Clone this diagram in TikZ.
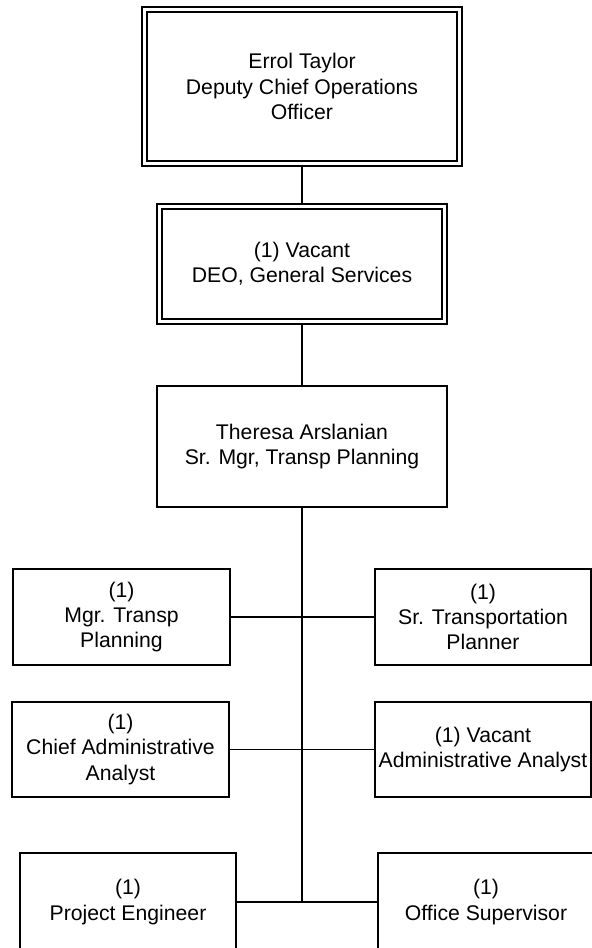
\documentclass[tikz,border=0pt]{standalone}
\usepackage{fontspec}
\setmainfont{Liberation Sans}
\usepackage{tikz}
\usetikzlibrary{positioning}

\begin{document}
\begin{tikzpicture}[x=0.5pt, y=-0.5pt,
  every node/.style={font=\fontsize{10.6}{12.6}\selectfont, align=center, inner sep=0pt},
  box/.style={draw, line width=0.75pt, rectangle},
  dblbox/.style={draw, double, line width=1pt, double distance=1.5pt, rectangle},
  link/.style={line width=0.75pt},
  spine/.style={line width=1.3pt}]
\useasboundingbox (0,0) rectangle (592,948);
% upper chain
\node[dblbox, minimum width=157.5pt, minimum height=77pt] (cdo) at (302,86.5)
  {Errol Taylor\\Deputy Chief Operations\\Officer};
\node[dblbox, minimum width=142.5pt, minimum height=57.75pt] (deo) at (302,264)
  {(1) Vacant\\DEO, General Services};
\node[box, minimum width=145pt, minimum height=60.5pt] (sm) at (302,446.5)
  {Theresa Arslanian\\Sr. Mgr, Transp Planning};
% reports
\node[box, minimum width=108.5pt, minimum height=48pt] (mgr) at (121.5,617)
  {(1)\\Mgr. Transp\\Planning};
\node[box, minimum width=108pt, minimum height=48pt] (stp) at (483,617)
  {(1)\\Sr. Transportation\\Planner};
\node[box, minimum width=108.5pt, minimum height=47.5pt] (caa) at (120.5,749.5)
  {(1)\\Chief Administrative\\Analyst};
\node[box, minimum width=108pt, minimum height=47.5pt] (vaa) at (483,749.5)
  {(1) Vacant\\Administrative Analyst};
\node[box, minimum width=108pt, minimum height=49pt] (pe) at (128,902)
  {(1)\\Project Engineer};
\node[box, minimum width=108pt, minimum height=49pt] (os) at (486,902)
  {(1)\\Office Supervisor};
% lines
\draw[link] (cdo.south) -- (deo.north);
\draw[link] (deo.south) -- (sm.north);
\coordinate (j3) at (sm.south |- pe.east);
\draw[spine] (sm.south) -- (j3);
\draw[link] (mgr) -- (stp);
\draw[link] (caa) -- (vaa);
\draw[link] (pe) -- (os);
\end{tikzpicture}
\end{document}
